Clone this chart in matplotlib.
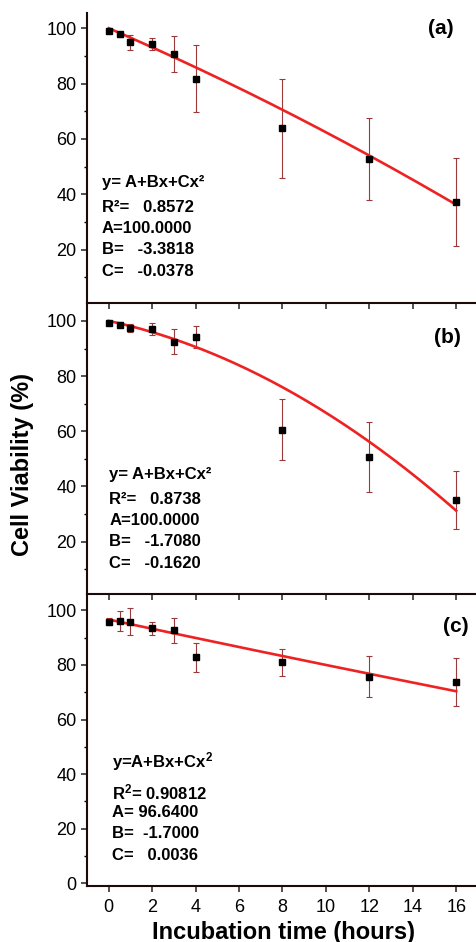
import numpy as np
import matplotlib
matplotlib.use('agg')
import matplotlib.pyplot as plt
from matplotlib.ticker import MultipleLocator

plt.rcParams['font.family'] = ['Liberation Sans', 'DejaVu Sans']
plt.rcParams['mathtext.fontset'] = 'custom'
plt.rcParams['mathtext.rm'] = 'Liberation Sans:bold'
plt.rcParams['mathtext.it'] = 'Liberation Sans:bold'
plt.rcParams['mathtext.bf'] = 'Liberation Sans:bold'

# incubation times (hours)
hours = [0, 0.5, 1, 2, 3, 4, 8, 12, 16]

# viability (%) and error for each panel
via_a = [99.0, 97.8, 94.9, 94.3, 90.7, 81.8, 63.8, 52.8, 37.2]
err_a = [0.8, 0.8, 2.6, 2.2, 6.6, 12.1, 18.0, 14.7, 16.0]
via_b = [99.2, 98.7, 97.5, 97.2, 92.5, 94.3, 60.6, 50.5, 35.0]
err_b = [0.8, 0.8, 1.5, 2.2, 4.5, 4.0, 11.0, 12.7, 10.5]
via_c = [95.9, 96.1, 95.9, 93.4, 92.7, 82.8, 80.9, 75.7, 73.7]
err_c = [1.2, 3.5, 5.0, 2.3, 4.6, 5.2, 4.8, 7.4, 8.7]

# quadratic fit parameters (A, B, C) and R^2
fit_a = (100.0000, -3.3818, -0.0378)
fit_b = (100.0000, -1.7080, -0.1620)
fit_c = (96.6400, -1.7000, 0.0036)
r2_a, r2_b, r2_c = '0.8572', '0.8738', '0.90812'

panel_tags = ['(a)', '(b)', '(c)']

fig = plt.figure(figsize=(4.77, 9.42), dpi=100)
left, width = 87/477, 1 - 87/477 + 0.002
boxes = [(1-303/942, (303-13)/942), (1-594/942, (594-303)/942), (1-886/942, (886-594)/942)]
axs = [fig.add_axes([left, b, width, h]) for b, h in boxes]

datasets = [(via_a, err_a, fit_a), (via_b, err_b, fit_b), (via_c, err_c, fit_c)]
xs = np.linspace(0, 16, 200)
tag_pos = [(15.3, 100.0), (15.6, 94.1), (16.0, 94.1)]

for i, ax in enumerate(axs):
    via, err, (A, B, C) = datasets[i]
    ax.patch.set_visible(False)  # keep the outward ticks of the panel above visible
    ax.errorbar(hours, via, yerr=err, fmt='none', ecolor='#9b3a3a', elinewidth=0.8,
                capsize=2.5, capthick=0.8, zorder=2)
    ax.plot(xs, A + B*xs + C*xs**2, color='#ee2222', lw=1.9, zorder=3)
    ax.plot(hours, via, 's', color='black', ms=4.6, zorder=4)

    ax.set_xlim(-1, 17)
    ax.xaxis.set_major_locator(MultipleLocator(2))
    ax.yaxis.set_major_locator(MultipleLocator(20))
    ax.yaxis.set_minor_locator(MultipleLocator(10))
    ax.tick_params(axis='both', which='major', direction='out', length=4, width=1.1,
                   labelsize=13, color='#222222')
    ax.tick_params(axis='y', which='minor', direction='out', length=2.5, width=1.0)
    ax.tick_params(axis='x', which='minor', length=0)
    for s in ['left', 'bottom']:
        ax.spines[s].set_linewidth(1.5)
        ax.spines[s].set_color('#1a0a0a')
    ax.spines['top'].set_visible(False)
    ax.spines['right'].set_visible(False)
    ax.text(*tag_pos[i], panel_tags[i], fontsize=15, fontweight='bold',
            ha='center', va='center')

axs[0].set_ylim(0.7, 105.5)
axs[1].set_ylim(1.0, 106.5)
axs[2].set_ylim(-1.0, 106.0)
axs[0].set_yticks([20, 40, 60, 80, 100])
axs[1].set_yticks([20, 40, 60, 80, 100])
axs[2].set_yticks([0, 20, 40, 60, 80, 100])
axs[0].tick_params(axis='x', labelbottom=False)
axs[1].tick_params(axis='x', labelbottom=False)
axs[2].tick_params(axis='x', pad=5)

# fit summaries
tx = dict(fontsize=12, fontweight='bold', ha='left', va='center')
rows_ab = [44.3, 35.3, 27.6, 19.9, 12.2]
for ax, x0, (A, B, C), r2 in [(axs[0], -0.33, fit_a, r2_a), (axs[1], 0.03, fit_b, r2_b)]:
    lines = ['y= A+Bx+Cx²', 'R²=   ' + r2, 'A=%.4f' % A,
             'B=   %.4f' % B, 'C=   %.4f' % C]
    for y0, s in zip(rows_ab, lines):
        ax.text(x0, y0, s, **tx)

rows_c = [44.5, 33.3, 25.9, 18.2, 10.3]
lines_c = [r'y=A+Bx+Cx$^{2}$', r'R$^{2}$= ' + r2_c, 'A= %.4f' % fit_c[0],
           'B=  %.4f' % fit_c[1], 'C=   %.4f' % fit_c[2]]
for y0, s in zip(rows_c, lines_c):
    axs[2].text(0.13, y0, s, **tx)

fig.text(23/477, 1-464/942, 'Cell Viability (%)', rotation=90, fontsize=17,
         fontweight='bold', ha='center', va='center')
fig.text(283/477, 1-932/942, 'Incubation time (hours)', fontsize=17,
         fontweight='bold', ha='center', va='center')

fig.savefig('out.png', dpi=100)
